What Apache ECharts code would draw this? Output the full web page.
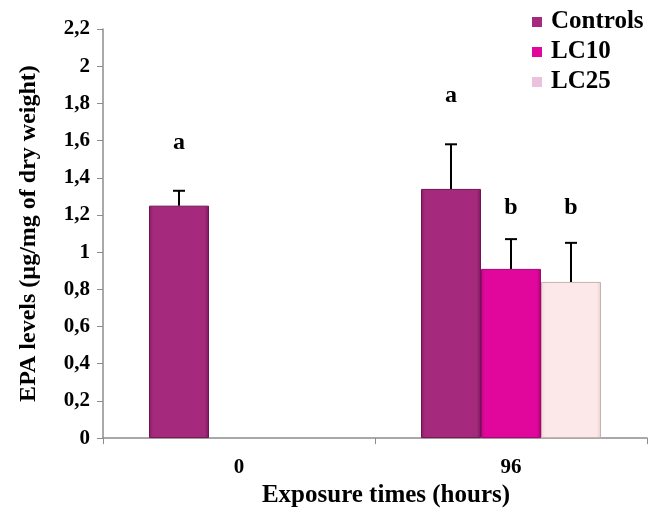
<!DOCTYPE html>
<html><head><meta charset="utf-8">
<script src="https://cdn.jsdelivr.net/npm/echarts@6/dist/echarts.min.js"></script>
<style>html,body{margin:0;padding:0;background:#fff}#c{width:659px;height:513px}</style>
</head><body><div id="c"></div>
<script>
// ---- data ----
const categories = ['0', '96'];
const seriesNames = ['Controls', 'LC10', 'LC25'];
const controlsMean = [1.25, 1.34];
const controlsErr = [0.08, 0.24];
const lc10Mean = [null, 0.91];
const lc10Err = [null, 0.16];
const lc25Mean = [null, 0.84];
const lc25Err = [null, 0.21];
const controlsLetters = ['a', 'a'];
const lc10Letters = [null, 'b'];
const lc25Letters = [null, 'b'];
const controlsLetterLevel = [1.59, 1.84];
const lc10LetterLevel = [null, 1.24];
const lc25LetterLevel = [null, 1.24];
const yMin = 0, yMax = 2.2, yStep = 0.2;
const xTitle = 'Exposure times (hours)';
const yTitle = 'EPA levels (µg/mg of dry weight)';

const means = [controlsMean, lc10Mean, lc25Mean];
const errs = [controlsErr, lc10Err, lc25Err];
const letters = [controlsLetters, lc10Letters, lc25Letters];
const letterLevels = [controlsLetterLevel, lc10LetterLevel, lc25LetterLevel];

const FONT = '"Liberation Serif", "Times New Roman", serif';
const BAR_W = 60;
const offsets = [-BAR_W, 0, BAR_W];

function grad(edge, mid, edge2) {
  return new echarts.graphic.LinearGradient(0, 0, 1, 0, [
    {offset: 0, color: edge}, {offset: 0.07, color: mid},
    {offset: 0.93, color: mid}, {offset: 1, color: edge2}
  ]);
}
const barStyles = [
  {color: grad('#8A1C66', '#A52A7D', '#7A175A'), borderColor: '#6E1450', borderWidth: 1},
  {color: grad('#C8048A', '#E1079D', '#B00379'), borderColor: '#A0046E', borderWidth: 1},
  {color: grad('#EFD6D6', '#FCE8E8', '#E6CFCF'), borderColor: '#C9AFAF', borderWidth: 1}
];
const legendColors = ['#A52A7D', '#E1079D', '#EBC2DE'];

const series = [];
seriesNames.forEach((name, i) => {
  series.push({
    name: name, type: 'bar', barWidth: BAR_W, barGap: '0%',
    data: means[i], itemStyle: barStyles[i], z: 2
  });
});
seriesNames.forEach((name, i) => {
  const d = [];
  categories.forEach((c, k) => {
    if (means[i][k] != null) d.push([k, means[i][k], errs[i][k]]);
  });
  series.push({
    type: 'custom', name: name + ' err', z: 5, silent: true,
    renderItem: function (params, api) {
      const k = api.value(0), m = api.value(1), e = api.value(2);
      const base = api.coord([k, m]);
      const top = api.coord([k, m + e]);
      const x = base[0] + offsets[i];
      return {type: 'group', children: [
        {type: 'line', shape: {x1: x, y1: base[1], x2: x, y2: top[1]}, style: {stroke: '#000', lineWidth: 2}},
        {type: 'line', shape: {x1: x - 6, y1: top[1], x2: x + 6, y2: top[1]}, style: {stroke: '#000', lineWidth: 2}}
      ]};
    },
    encode: {x: 0, y: 1}, data: d
  });
  const ld = [];
  categories.forEach((c, k) => {
    if (letters[i][k]) ld.push([k, letterLevels[i][k], letters[i][k]]);
  });
  series.push({
    type: 'custom', name: name + ' letters', z: 6, silent: true,
    renderItem: function (params, api) {
      const k = api.value(0), lv = api.value(1);
      const p = api.coord([k, lv]);
      return {type: 'text', x: p[0] + offsets[i], y: p[1], style: {
        text: ld[params.dataIndex][2], fill: '#000', font: 'bold 24px ' + FONT,
        align: 'center', verticalAlign: 'middle'}};
    },
    encode: {x: 0, y: 1}, data: ld
  });
});

const chart = echarts.init(document.getElementById('c'), null, {renderer: 'canvas'});
chart.setOption({
  animation: false,
  backgroundColor: '#fff',
  grid: {left: 103, right: 12, top: 29, bottom: 68, containLabel: false},
  legend: {
    orient: 'vertical', left: 527, top: 4, itemWidth: 10, itemHeight: 10, itemGap: 4,
    icon: 'rect',
    textStyle: {fontFamily: FONT, fontWeight: 'bold', fontSize: 25, color: '#000', lineHeight: 26, padding: [0, 0, 0, 4]},
    data: seriesNames.map((n, i) => ({name: n, itemStyle: {color: legendColors[i], borderWidth: 0}}))
  },
  xAxis: {
    type: 'category', data: categories,
    name: xTitle, nameLocation: 'middle', nameGap: 44,
    nameTextStyle: {fontFamily: FONT, fontWeight: 'bold', fontSize: 25, color: '#000', padding: [0, 0, 0, 22]},
    axisLine: {lineStyle: {color: '#8c8c8c', width: 1.5}},
    axisTick: {show: true, alignWithLabel: false, length: 6, lineStyle: {color: '#8c8c8c'}},
    axisLabel: {fontFamily: FONT, fontWeight: 'bold', fontSize: 21, color: '#000', margin: 19}
  },
  yAxis: {
    type: 'value', min: yMin, max: yMax, interval: yStep,
    name: yTitle, nameLocation: 'middle', nameGap: 62, nameRotate: 90,
    nameTextStyle: {fontFamily: FONT, fontWeight: 'bold', fontSize: 24, color: '#000'},
    axisLine: {show: true, lineStyle: {color: '#8c8c8c', width: 1.5}},
    axisTick: {show: true, length: 6, lineStyle: {color: '#8c8c8c'}},
    splitLine: {show: false},
    axisLabel: {fontFamily: FONT, fontWeight: 'bold', fontSize: 21, color: '#000', margin: 13,
      formatter: v => String(Math.round(v * 10) / 10).replace('.', ',')}
  },
  series: series
});
</script></body></html>
